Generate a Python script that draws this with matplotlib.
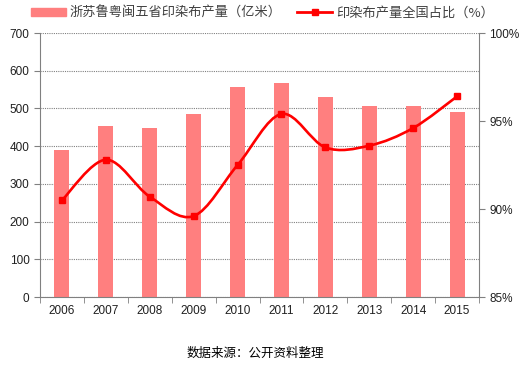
import numpy as np
import matplotlib
matplotlib.use("Agg")
import matplotlib.pyplot as plt
from matplotlib.path import Path
from matplotlib.patches import PathPatch
from matplotlib.lines import Line2D
from matplotlib.patches import Patch

plt.rcParams['font.family'] = ['Liberation Sans', 'Noto Sans CJK SC', 'DejaVu Sans']

years = ['2006', '2007', '2008', '2009', '2010', '2011', '2012', '2013', '2014', '2015']
output_5prov = [390, 453, 448, 485, 557, 567, 530, 507, 507, 491]
share_pct = [90.5, 92.8, 90.7, 89.6, 92.5, 95.4, 93.5, 93.6, 94.6, 96.4]

bar_label = '浙苏鲁粤闽五省印染布产量（亿米）'
line_label = '印染布产量全国占比（%）'
source_text = '数据来源：公开资料整理'

bar_color = '#FF7F7F'
line_color = '#FF0000'


def smooth_path(xs, ys, tension=0.5):
    # catmull-rom style bezier segments through the data points
    verts = [(xs[0], ys[0])]
    codes = [Path.MOVETO]
    n = len(xs)
    for i in range(n - 1):
        x0, y0 = (xs[i - 1], ys[i - 1]) if i > 0 else (xs[i], ys[i])
        x1, y1 = xs[i], ys[i]
        x2, y2 = xs[i + 1], ys[i + 1]
        x3, y3 = (xs[i + 2], ys[i + 2]) if i + 2 < n else (x2, y2)
        c1 = (x1 + (x2 - x0) * tension / 3, y1 + (y2 - y0) * tension / 3)
        c2 = (x2 - (x3 - x1) * tension / 3, y2 - (y3 - y1) * tension / 3)
        verts += [c1, c2, (x2, y2)]
        codes += [Path.CURVE4] * 3
    return Path(verts, codes)


fig = plt.figure(figsize=(5.25, 3.67), dpi=100)
ax = fig.add_axes([0.0762, 0.1907, 0.8362, 0.7193])
x = np.arange(len(years))

ax.bar(x, output_5prov, width=0.34, color=bar_color, zorder=2)
ax.set_xlim(-0.5, len(years) - 0.5)
ax.set_ylim(0, 700)
ax.set_yticks(range(0, 701, 100))
ax.yaxis.grid(True, color='#808080', linestyle=(0, (1, 1)), linewidth=0.8, zorder=0)
ax.set_xticks(x)
ax.set_xticklabels(years)
ax.set_xticks(np.arange(-0.5, len(years), 1), minor=True)
ax.tick_params(axis='x', which='major', length=0, labelsize=8.5, pad=6, labelcolor='#202020')
ax.tick_params(axis='x', which='minor', length=4, direction='out', color='#808080')
ax.tick_params(axis='y', labelsize=8.5, length=4, color='#808080', labelcolor='#202020')
for side in ['top', 'right']:
    ax.spines[side].set_visible(False)
for side in ['left', 'bottom']:
    ax.spines[side].set_color('#808080')

ax2 = ax.twinx()
ax2.set_ylim(85, 100)
ax2.set_yticks([85, 90, 95, 100])
ax2.set_yticklabels([f'{v}%' for v in [85, 90, 95, 100]])
ax2.tick_params(axis='y', labelsize=8.5, length=4, color='#808080', labelcolor='#202020')
for side in ['top', 'left', 'bottom']:
    ax2.spines[side].set_visible(False)
ax2.spines['right'].set_color('#808080')

curve = PathPatch(smooth_path(x, share_pct), facecolor='none', edgecolor=line_color,
                  linewidth=1.9, zorder=3)
ax2.add_patch(curve)
ax2.plot(x, share_pct, linestyle='none', marker='s', markersize=5, color=line_color, zorder=4)

handles = [Patch(color=bar_color),
           Line2D([], [], color=line_color, linewidth=2, marker='s', markersize=5)]
leg = fig.legend(handles, [bar_label, line_label], loc='center', bbox_to_anchor=(0.5, 0.965),
                 ncol=2, frameon=False, handlelength=2.6, handleheight=0.6,
                 columnspacing=1.2, handletextpad=0.3,
                 prop={'family': ['Noto Sans CJK SC', 'DejaVu Sans'], 'size': 9.5})
for t in leg.get_texts():
    t.set_color('#404040')

fig.text(0.486, 0.038, source_text, ha='center', va='center', fontsize=9,
         family=['Noto Sans CJK SC', 'DejaVu Sans'])

fig.savefig('out.png', dpi=100)
